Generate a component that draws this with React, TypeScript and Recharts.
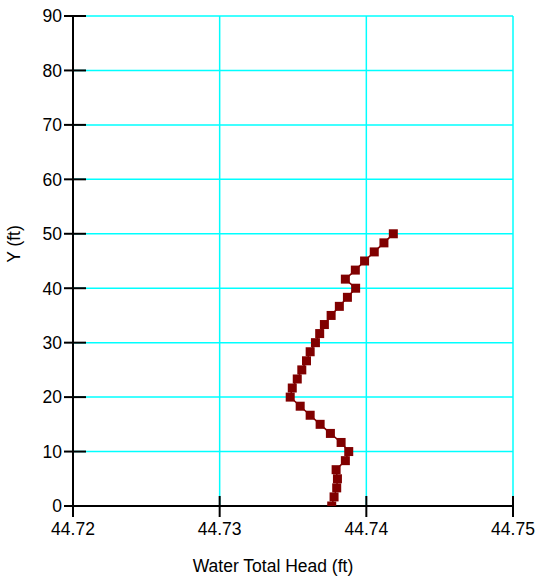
import React from "react";
import {
  ScatterChart,
  Scatter,
  XAxis,
  YAxis,
  CartesianGrid,
  Label,
} from "recharts";

// depth profile, bottom to top
const yValues = [
  0, 1.67, 3.33, 5, 6.67, 8.33, 10, 11.67, 13.33, 15, 16.67, 18.33, 20, 21.67,
  23.33, 25, 26.67, 28.33, 30, 31.67, 33.33, 35, 36.67, 38.33, 40, 41.67,
  43.33, 45, 46.67, 48.33, 50,
];
const headValues = [
  44.73764, 44.7378, 44.73798, 44.73803, 44.73794, 44.73857, 44.7388,
  44.73828, 44.73755, 44.73685, 44.73617, 44.73549, 44.73481, 44.73495,
  44.73529, 44.7356, 44.73592, 44.73617, 44.73653, 44.73682, 44.73714,
  44.7376, 44.73816, 44.73871, 44.73927, 44.73857, 44.73925, 44.73988,
  44.74054, 44.7412, 44.74184,
];
const xTicks = [44.72, 44.73, 44.74, 44.75];
const yTicks = [0, 10, 20, 30, 40, 50, 60, 70, 80, 90];

const data = yValues.map((y, i) => ({ x: headValues[i], y }));

const FONT = "'Liberation Sans', Arial, sans-serif";
const FS = 17.5;
const RED = "#800000";

const XTick = (props: any) => {
  const { x, y, payload } = props;
  return (
    <g>
      <line x1={x} x2={x} y1={y - 10} y2={y + 11} stroke="#000" strokeWidth={2} />
      <text x={x} y={y + 29} textAnchor="middle" fontSize={FS} fontFamily={FONT} fill="#000">
        {payload.value.toFixed(2)}
      </text>
    </g>
  );
};

const YTick = (props: any) => {
  const { x, y, payload } = props;
  return (
    <g>
      <line x1={x - 9} x2={x + 13} y1={y} y2={y} stroke="#000" strokeWidth={2} />
      <text x={x - 11} y={y + 6.3} textAnchor="end" fontSize={FS} fontFamily={FONT} fill="#000">
        {payload.value}
      </text>
    </g>
  );
};

const Square = (props: any) => {
  const { cx, cy } = props;
  return <rect x={cx - 4.5} y={cy - 4.5} width={9} height={9} fill={RED} />;
};

export default function App() {
  return (
    <div style={{ position: "absolute", left: 0, top: 0 }}>
      <ScatterChart
        width={538}
        height={579}
        margin={{ top: 16, right: 25, bottom: 0, left: 0 }}
      >
        <CartesianGrid stroke="#00ffff" strokeWidth={1.5} />
        <XAxis
          type="number"
          dataKey="x"
          domain={[44.72, 44.75]}
          ticks={xTicks}
          height={73}
          tickSize={0}
          tickMargin={0}
          tickLine={false}
          tick={<XTick />}
          axisLine={{ stroke: "#000", strokeWidth: 2 }}
          allowDataOverflow
        >
          <Label
            content={() => (
              <text x={273} y={572} textAnchor="middle" fontSize={FS} fontFamily={FONT} fill="#000">
                Water Total Head (ft)
              </text>
            )}
          />
        </XAxis>
        <YAxis
          type="number"
          dataKey="y"
          domain={[0, 90]}
          ticks={yTicks}
          width={73}
          tickSize={0}
          tickMargin={0}
          tickLine={false}
          tick={<YTick />}
          axisLine={{ stroke: "#000", strokeWidth: 2 }}
          allowDataOverflow
        >
          <Label
            content={() => (
              <text
                x={14}
                y={244}
                transform="rotate(-90, 14, 244)"
                textAnchor="middle"
                dominantBaseline="central"
                fontSize={FS}
                fontFamily={FONT}
                fill="#000"
              >
                Y (ft)
              </text>
            )}
          />
        </YAxis>
        <Scatter
          data={data}
          shape={<Square />}
          line={{ stroke: RED, strokeWidth: 1.5 }}
          lineType="joint"
          isAnimationActive={false}
        />
      </ScatterChart>
    </div>
  );
}
